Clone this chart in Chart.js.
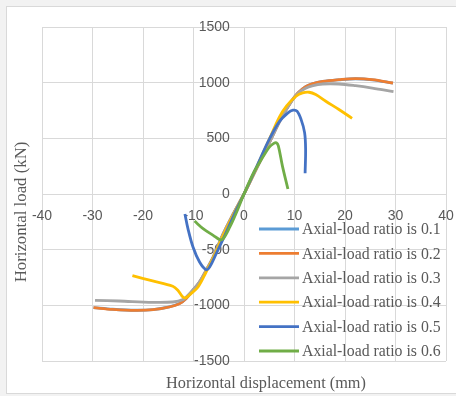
<!DOCTYPE html>
<html>
<head>
<meta charset="utf-8">
<script src="https://cdn.jsdelivr.net/npm/chart.js@4"></script>
<style>
html, body { margin: 0; padding: 0; background: #f2f2f2; }
</style>
</head>
<body>
<canvas id="myChart" width="456" height="396"></canvas>
<script>
// series labels and colours (Excel default palette)
const seriesLabels = ["Axial-load ratio is 0.1", "Axial-load ratio is 0.2", "Axial-load ratio is 0.3",
    "Axial-load ratio is 0.4", "Axial-load ratio is 0.5", "Axial-load ratio is 0.6"];
const seriesColors = ["#5B9BD5", "#ED7D31", "#A5A5A5", "#FFC000", "#4472C4", "#70AD47"];

// displacement (mm) and load (kN)
const x01 = [-29.8, -26, -21.5, -18, -14.8, -12.8, -11.5, -10.1, -8.8, -7.5, -6.1, -4.1, -2.1, 0, 2.5, 5, 7.5, 9.5, 10.7, 12.2, 13.5, 15.6, 18.8, 22.1, 25.4, 29.5];
const y01 = [-1020, -1035, -1044, -1038, -1014, -984, -940, -865, -790, -686, -566, -356, -177, 0, 232, 462, 690, 840, 908, 964, 989, 1011, 1026, 1035, 1026, 996];

const x02 = [-29.8, -26, -21.5, -18, -14.8, -12.8, -11.5, -10.1, -8.8, -7.5, -6.1, -4.1, -2.1, 0, 2.5, 5, 7.5, 9.5, 10.7, 12.2, 13.5, 15.6, 18.8, 22.1, 25.4, 29.5];
const y02 = [-1021, -1036, -1045, -1039, -1015, -985, -940, -865, -790, -686, -566, -356, -177, 0, 230, 460, 690, 840, 910, 965, 990, 1012, 1027, 1036, 1027, 997];

const x03 = [-29.5, -24.8, -18.1, -14.1, -12.1, -11.1, -10.1, -8.8, -7.5, -6.1, -4.1, -2.1, 0, 2.5, 5, 7.5, 9.5, 10.7, 12.2, 13.5, 15.6, 18.8, 22.1, 25.4, 29.6];
const y03 = [-955, -961, -973, -970, -949, -910, -860, -788, -686, -566, -356, -177, 0, 230, 460, 690, 840, 905, 950, 972, 988, 988, 973, 952, 920];

const x04 = [-22.1, -18.1, -14.1, -13.1, -12.1, -11.5, -10.5, -9.1, -7.5, -6.1, -4.1, -2.1, 0, 2.5, 5, 7, 8.4, 10.3, 11.6, 12.9, 14.2, 16.2, 18.8, 21.4];
const y04 = [-733, -781, -829, -865, -925, -931, -895, -835, -701, -576, -370, -185, 0, 240, 490, 690, 789, 878, 908, 914, 893, 833, 759, 680];

const x05 = [-11.7, -11.1, -10.1, -8.8, -7.5, -6.8, -5.5, -4.1, -2.1, 0, 2.5, 5, 7, 8.7, 9.7, 10.5, 11.3, 12.0, 12.2, 12.1];
const y05 = [-180, -311, -476, -611, -680, -656, -536, -401, -200, 0, 245, 490, 650, 729, 753, 744, 670, 551, 402, 186];

const x06 = [-9.8, -8.1, -6.1, -4.8, -4.1, -2.8, -1.6, 0, 2, 3.5, 5, 5.9, 6.4, 6.8, 7.6, 8.7];
const y06 = [-243, -311, -371, -410, -401, -296, -177, 0, 200, 314, 420, 455, 461, 432, 253, 45];

const seriesX = [x01, x02, x03, x04, x05, x06];
const seriesY = [y01, y02, y03, y04, y05, y06];

const xTitle = "Horizontal displacement (mm)";
const yTitle = "Horizontal load (kN)";

const serif = "'Liberation Serif', 'DejaVu Serif', serif";
const sans = "'Liberation Sans', Arial, sans-serif";
const textGray = "#595959";
const gridGray = "#d9d9d9";

function makePoints(xs, ys) {
    const pts = [];
    for (let i = 0; i < xs.length; i++) {
        pts.push({x: xs[i], y: ys[i]});
    }
    return pts;
}

const datasets = [];
for (let i = 0; i < seriesLabels.length; i++) {
    datasets.push({
        label: seriesLabels[i],
        data: makePoints(seriesX[i], seriesY[i]),
        borderColor: seriesColors[i],
        backgroundColor: seriesColors[i],
        borderWidth: 2.8,
        pointRadius: 0,
        showLine: true,
        tension: 0.35,
        order: seriesLabels.length - i // later series drawn on top, like Excel
    });
}

// white chart box with thin border
const framePlugin = {
    id: "frame",
    beforeDraw(chart) {
        const ctx = chart.ctx;
        ctx.save();
        ctx.fillStyle = "#f2f2f2";
        ctx.fillRect(0, 0, chart.width, chart.height);
        ctx.fillStyle = "#ffffff";
        ctx.fillRect(7, 7, chart.width, 386);
        ctx.strokeStyle = gridGray;
        ctx.lineWidth = 1;
        ctx.strokeRect(6.5, 6.5, chart.width, 387);
        ctx.restore();
    }
};

// axis titles + legend drawn inside the plot, Excel style
const extrasPlugin = {
    id: "extras",
    afterDraw(chart) {
        const ctx = chart.ctx;
        ctx.save();
        ctx.fillStyle = textGray;
        ctx.textAlign = "center";
        ctx.textBaseline = "middle";
        ctx.font = "16.3px " + serif;
        ctx.fillText(xTitle, 266, 384);

        ctx.font = "16.8px " + serif;
        ctx.translate(22, 212);
        ctx.rotate(-Math.PI / 2);
        ctx.fillText(yTitle, 0, 0);
        ctx.restore();

        ctx.save();
        ctx.font = "15.8px " + serif;
        ctx.textAlign = "left";
        ctx.textBaseline = "middle";
        chart.data.datasets.forEach((ds, i) => {
            const rowY = 229 + i * 24.4;
            ctx.strokeStyle = ds.borderColor;
            ctx.lineWidth = 2.8;
            ctx.beginPath();
            ctx.moveTo(259, rowY);
            ctx.lineTo(299, rowY);
            ctx.stroke();
            ctx.fillStyle = textGray;
            ctx.fillText(ds.label, 302, rowY + 1);
        });
        ctx.restore();
    }
};

new Chart(document.getElementById("myChart"), {
    type: "scatter",
    data: {datasets: datasets},
    options: {
        responsive: false,
        animation: false,
        devicePixelRatio: 1,
        layout: {padding: {left: 42, right: 10, top: 27, bottom: 35}},
        plugins: {
            legend: {display: false},
            tooltip: {enabled: false}
        },
        scales: {
            x: {
                type: "linear",
                min: -40,
                max: 40,
                position: {y: 0},
                grid: {color: gridGray, drawTicks: true, tickLength: 14, tickColor: "rgba(0,0,0,0)"},
                border: {color: gridGray},
                ticks: {stepSize: 10, color: textGray, font: {family: sans, size: 14}, padding: 0, maxRotation: 0,
                    callback: v => String(v)}
            },
            y: {
                type: "linear",
                min: -1500,
                max: 1500,
                // labels sit a little left of the zero line; the line itself is the x grid line at 0
                position: {x: -2.8},
                grid: {color: gridGray, drawTicks: false},
                border: {display: false},
                ticks: {stepSize: 500, color: textGray, font: {family: sans, size: 14}, padding: 0,
                    callback: v => String(v)}
            }
        }
    },
    plugins: [framePlugin, extrasPlugin]
});
</script>
</body>
</html>
